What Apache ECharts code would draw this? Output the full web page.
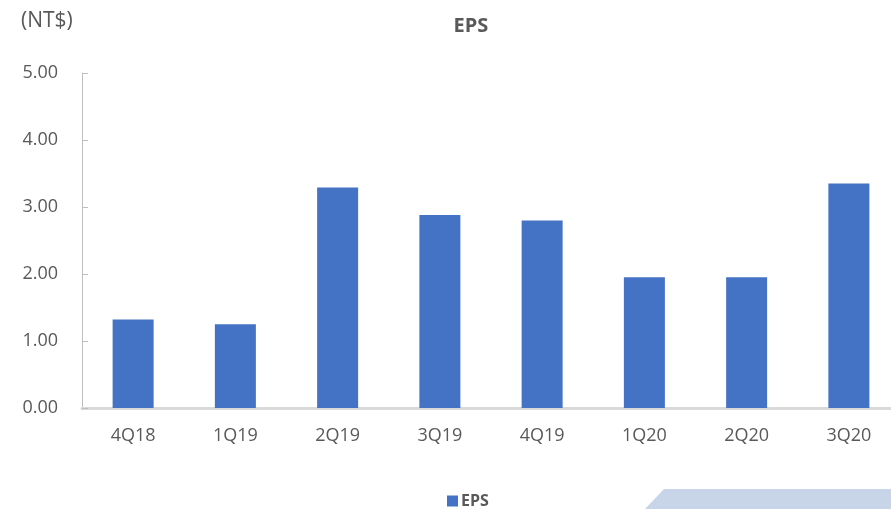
<!DOCTYPE html>
<html><head><meta charset="utf-8">
<script src="https://cdn.jsdelivr.net/npm/echarts@6/dist/echarts.min.js"></script>
<style>html,body{margin:0;padding:0;background:#fff;overflow:hidden}#c{width:910px;height:509px}</style>
</head><body><div id="c"></div>
<script>
const categories = ['4Q18','1Q19','2Q19','3Q19','4Q19','1Q20','2Q20','3Q20'];
const epsValues = [1.32, 1.25, 3.29, 2.88, 2.80, 1.95, 1.95, 3.35];
const yTicks = [0, 1, 2, 3, 4, 5];
const FONT = '"Open Sans",sans-serif';
const chart = echarts.init(document.getElementById('c'));
chart.setOption({
  animation: false,
  title: { text: 'EPS', left: 466, top: 11, textAlign: 'center',
    textStyle: { fontFamily: FONT, fontSize: 20, fontWeight: 'bold', color: '#595959' } },
  graphic: [
    { type: 'text', left: 21, top: 11, style: { text: '(NT$)', font: '21px ' + FONT, fill: '#595959' } },
    { type: 'polygon', shape: { points: [[645, 509], [664, 489], [910, 489], [910, 509]] }, style: { fill: '#C8D4E7' } }
  ],
  legend: { data: ['EPS'], left: 442, top: 488, itemWidth: 11, itemHeight: 11, itemGap: 4,
    icon: 'rect', textStyle: { fontFamily: FONT, fontSize: 16, fontWeight: 'bold', color: '#595959', padding: [0,0,0,-2] } },
  grid: { left: 82, top: 73, width: 818, height: 335 },
  xAxis: { type: 'category', data: categories,
    axisLine: { lineStyle: { color: '#D9D9D9', width: 3 } },
    axisTick: { show: false },
    axisLabel: { fontFamily: FONT, fontSize: 18, color: '#595959', margin: 19 } },
  yAxis: { type: 'value', min: yTicks[0], max: yTicks[yTicks.length - 1], interval: 1,
    splitLine: { show: false },
    axisLine: { show: true, lineStyle: { color: '#BFBFBF', width: 1 } },
    axisTick: { show: true, inside: true, length: 6, lineStyle: { color: '#BFBFBF' } },
    axisLabel: { fontFamily: FONT, fontSize: 18, color: '#595959', margin: 24,
      formatter: v => v.toFixed(2) } },
  series: [{ name: 'EPS', type: 'bar', data: epsValues, barWidth: 41,
    itemStyle: { color: '#4472C4' } }]
});
</script></body></html>
